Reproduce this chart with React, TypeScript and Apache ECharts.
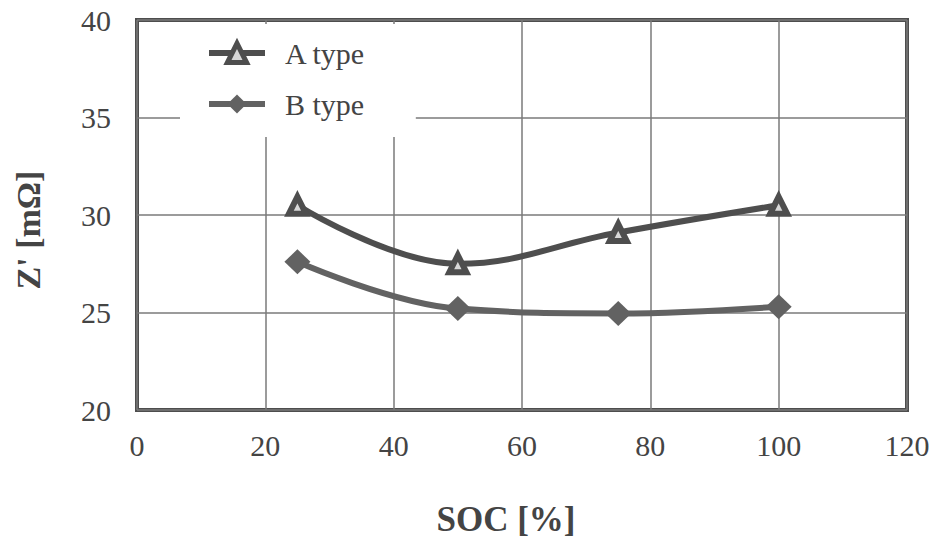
import React, { useEffect, useRef } from "react";
import * as echarts from "echarts";

const soc = [25, 50, 75, 100];
const aType = [30.5, 27.5, 29.1, 30.5];
const bType = [27.6, 25.2, 24.95, 25.3];
const seriesNames = ["A type", "B type"];

export default function App() {
  const ref = useRef<HTMLDivElement>(null);
  useEffect(() => {
    const chart = echarts.init(ref.current!, null, { renderer: "svg" });
    const font = "'Liberation Serif', 'Times New Roman', serif";
    const dark = "#4e4e4e";
    const bcol = "#626262";
    const triStyle = { color: "#d8d8d8", borderColor: dark, borderWidth: 6 };
    const diaStyle = { color: bcol, borderColor: bcol, borderWidth: 0 };
    chart.setOption({
      animation: false,
      backgroundColor: "#fff",
      textStyle: { fontFamily: font },
      grid: {
        left: 137, right: 33, top: 20, bottom: 134,
        outerBoundsMode: "none", containLabel: false,
        show: true, borderColor: dark, borderWidth: 4, backgroundColor: "transparent",
      },
      legend: {
        data: [
          { name: seriesNames[0], itemStyle: { ...triStyle, borderWidth: 5 }, lineStyle: { color: dark, width: 6 } },
          { name: seriesNames[1], itemStyle: diaStyle, lineStyle: { color: bcol, width: 6 } },
        ],
        orient: "vertical",
        left: 180, top: 24,
        backgroundColor: "#fff",
        padding: [14, 50, 18, 26],
        itemGap: 21,
        itemWidth: 56, itemHeight: 24,
        textStyle: { fontFamily: font, fontSize: 30, color: "#444", padding: [0, 0, 0, 15] },
      },
      xAxis: {
        type: "value", min: 0, max: 120, interval: 20,
        name: "SOC [%]", nameLocation: "middle", nameGap: 92,
        nameTextStyle: { fontFamily: font, fontSize: 35, fontWeight: "bold", color: "#444", padding: [0, 32, 0, 0] },
        axisLine: { show: false }, axisTick: { show: false },
        axisLabel: { fontFamily: font, fontSize: 30, color: "#444", margin: 20 },
        splitLine: { show: true, lineStyle: { color: "#7a7a7a", width: 1.5 } },
      },
      yAxis: {
        type: "value", min: 20, max: 40, interval: 5,
        name: "Z' [mΩ]", nameLocation: "middle", nameGap: 92, nameRotate: 90,
        nameTextStyle: { fontFamily: font, fontSize: 34, fontWeight: "bold", color: "#444", padding: [0, 30, 0, 0] },
        axisLine: { show: false }, axisTick: { show: false },
        axisLabel: { fontFamily: font, fontSize: 30, color: "#444", margin: 26 },
        splitLine: { show: true, lineStyle: { color: "#7a7a7a", width: 1.5 } },
      },
      series: [
        {
          name: seriesNames[0], type: "line", smooth: 0.4,
          data: soc.map((x, i) => [x, aType[i]]),
          symbol: "triangle", symbolSize: 17,
          lineStyle: { color: dark, width: 6 },
          itemStyle: triStyle,
          z: 3,
        },
        {
          name: seriesNames[1], type: "line", smooth: 0.4,
          data: soc.map((x, i) => [x, bType[i]]),
          symbol: "diamond", symbolSize: [26, 25],
          lineStyle: { color: bcol, width: 6 },
          itemStyle: diaStyle,
          z: 3,
        },
      ],
    });
    return () => chart.dispose();
  }, []);
  return <div ref={ref} style={{ width: 940, height: 544, position: "absolute", left: 0, top: 0 }} />;
}
